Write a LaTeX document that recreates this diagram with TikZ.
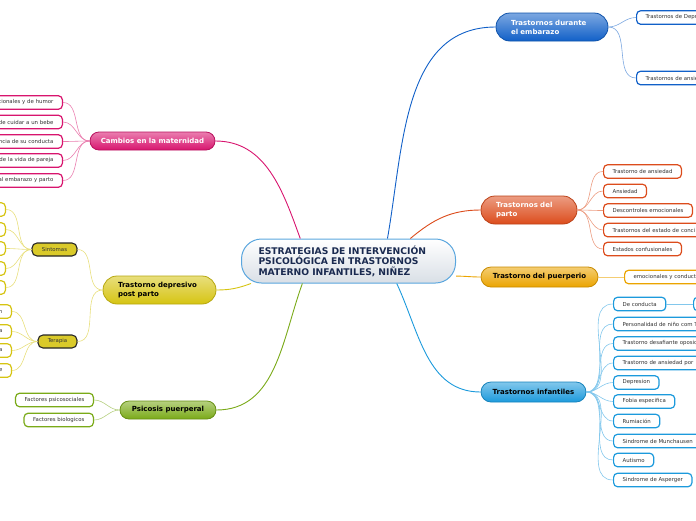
\documentclass[tikz,border=0pt]{standalone}
\usepackage{fontspec}
\setmainfont{DejaVu Sans}
\usetikzlibrary{positioning}

\begin{document}
\begin{tikzpicture}[x=1pt, y=-1pt, >=latex]

\definecolor{rootBorder}{HTML}{5AA6DE}
\definecolor{rootBot}{HTML}{D9DFE6}
\definecolor{rootText}{HTML}{1A2A50}
\definecolor{leafText}{HTML}{333333}
\definecolor{embCol}{HTML}{1160C8}
\definecolor{partoCol}{HTML}{DC4C1C}
\definecolor{puerCol}{HTML}{EBA400}
\definecolor{infCol}{HTML}{1C9ADC}
\definecolor{matCol}{HTML}{D8146E}
\definecolor{depCol}{HTML}{D6C412}
\definecolor{psiCol}{HTML}{7AAA18}

\tikzset{
    root_node/.style = {rectangle, rounded corners=20pt, draw=rootBorder, line width=1pt,
                        top color=white, bottom color=rootBot, text=rootText,
                        font=\fontsize{9.2}{10.6}\selectfont\bfseries, align=left,
                        minimum height=44pt, text width=180pt, inner xsep=17pt, inner ysep=0pt},
    main_node/.style = {rectangle, draw=#1!85!black, line width=0.8pt,
                        top color=#1!55!white, bottom color=#1,
                        font=\fontsize{7}{9}\selectfont\bfseries, inner sep=0pt},
    sub_node/.style = {rectangle, rounded corners=5pt, draw=black!85, line width=1.1pt,
                       fill=depCol!90!white, text=leafText, font=\fontsize{5.4}{6.5}\selectfont,
                       minimum height=13pt, inner sep=0pt},
    leaf_node/.style = {rectangle, rounded corners=4pt, draw=#1, line width=1.2pt, fill=white,
                        text=leafText, font=\fontsize{5.4}{6.5}\selectfont,
                        minimum height=13.5pt, inner xsep=9pt, inner ysep=0pt},
    cut_node/.style = {leaf_node=#1, anchor=west, text width=90pt, align=left},
    link/.style = {draw=#1, line width=0.9pt},
    twig/.style = {draw=#1!55!white, line width=0.6pt}
}

\useasboundingbox (0,0) rectangle (696,520);
\clip (0,0) rectangle (696,520);

% =========== CENTRAL TOPIC ===========
\node[root_node] (root) at (348.5, 261)
    {ESTRATEGIAS DE INTERVENCIÓN\\PSICOLÓGICA EN TRASTORNOS\\MATERNO INFANTILES, NIÑEZ};

% =========== TRASTORNOS DURANTE EL EMBARAZO ===========
\node[main_node=embCol, rounded corners=14pt, text=white, minimum height=28pt,
      text width=82pt, inner xsep=15pt, align=left] (emb) at (552, 27)
    {Trastornos durante\\el embarazo};

\node[cut_node=embCol] (emb_dep) at (636, 17.5) {Trastornos de Depr};
\node[cut_node=embCol] (emb_ans) at (636, 78) {Trastornos de ansie};

\draw[link=embCol] (root.30) to[out=80, in=180] (emb.west);
\draw[twig=embCol] (emb.east) to[out=0, in=180] (emb_dep.west);
\draw[twig=embCol] (emb.east) to[out=0, in=180] (emb_ans.west);

% =========== TRASTORNOS DEL PARTO ===========
\node[main_node=partoCol, rounded corners=14pt, text=white, minimum height=28pt,
      text width=66pt, inner xsep=15pt, align=left] (parto) at (529, 210)
    {Trastornos del\\parto};

\node[leaf_node=partoCol, anchor=west] (parto_1) at (603, 171.5) {Trastorno de ansiedad};
\node[leaf_node=partoCol, anchor=west] (parto_2) at (603, 191) {Ansiedad};
\node[leaf_node=partoCol, anchor=west] (parto_3) at (603, 210.5) {Descontroles emocionales};
\node[cut_node=partoCol] (parto_4) at (603, 230) {Trastornos del estado de conci};
\node[leaf_node=partoCol, anchor=west] (parto_5) at (603, 249) {Estados confusionales};

\draw[link=partoCol] (root.20) to[out=40, in=180] (parto.west);
\draw[twig=partoCol] (parto.east) to[out=0, in=180] (parto_1.west);
\draw[twig=partoCol] (parto.east) to[out=0, in=180] (parto_2.west);
\draw[twig=partoCol] (parto.east) to[out=0, in=180] (parto_3.west);
\draw[twig=partoCol] (parto.east) to[out=0, in=180] (parto_4.west);
\draw[twig=partoCol] (parto.east) to[out=0, in=180] (parto_5.west);

% =========== TRASTORNO DEL PUERPERIO ===========
\node[main_node=puerCol, rounded corners=10pt, text=black, minimum height=20pt,
      minimum width=117pt] (puer) at (539.5, 277) {Trastorno del puerperio};

\node[cut_node=puerCol] (puer_1) at (624, 277) {emocionales y conduct};

\draw[link=puerCol] (root.-8) to[out=0, in=180] (puer.west);
\draw[twig=puerCol] (puer.east) -- (puer_1.west);

% =========== TRASTORNOS INFANTILES ===========
\node[main_node=infCol, rounded corners=10pt, text=black, minimum height=20pt,
      minimum width=105pt] (inf) at (533.5, 392) {Trastornos infantiles};

\node[leaf_node=infCol, anchor=west] (inf_1) at (613, 304) {De conducta};
\node[leaf_node=infCol, anchor=west, minimum width=30pt] (inf_1b) at (693, 304) {};
\node[cut_node=infCol] (inf_2) at (613, 324) {Personalidad de niño com T};
\node[cut_node=infCol] (inf_3) at (613, 343.5) {Trastorno desafiante oposic};
\node[cut_node=infCol] (inf_4) at (613, 363) {Trastorno de ansiedad por};
\node[leaf_node=infCol, anchor=west] (inf_5) at (613, 382.5) {Depresion};
\node[leaf_node=infCol, anchor=west] (inf_6) at (613, 401.5) {Fobia especifica};
\node[leaf_node=infCol, anchor=west] (inf_7) at (613, 421) {Rumiación};
\node[leaf_node=infCol, anchor=west] (inf_8) at (613, 441) {Sindrome de Munchausen};
\node[leaf_node=infCol, anchor=west] (inf_9) at (613, 460) {Autismo};
\node[leaf_node=infCol, anchor=west] (inf_10) at (613, 480) {Sindrome de Asperger};

\draw[link=infCol] (root.-25) to[out=-65, in=180] (inf.west);
\draw[twig=infCol] (inf.east) to[out=0, in=180] (inf_1.west);
\draw[twig=infCol] (inf_1.east) -- (inf_1b.west);
\draw[twig=infCol] (inf.east) to[out=0, in=180] (inf_2.west);
\draw[twig=infCol] (inf.east) to[out=0, in=180] (inf_3.west);
\draw[twig=infCol] (inf.east) to[out=0, in=180] (inf_4.west);
\draw[twig=infCol] (inf.east) to[out=0, in=180] (inf_5.west);
\draw[twig=infCol] (inf.east) to[out=0, in=180] (inf_6.west);
\draw[twig=infCol] (inf.east) to[out=0, in=180] (inf_7.west);
\draw[twig=infCol] (inf.east) to[out=0, in=180] (inf_8.west);
\draw[twig=infCol] (inf.east) to[out=0, in=180] (inf_9.west);
\draw[twig=infCol] (inf.east) to[out=0, in=180] (inf_10.west);

% =========== CAMBIOS EN LA MATERNIDAD ===========
\node[main_node=matCol, rounded corners=9pt, text=white, minimum height=18pt,
      minimum width=125pt] (mat) at (152.5, 141) {Cambios en la maternidad};

\node[leaf_node=matCol, anchor=east, text width=62pt, align=right] (mat_1) at (63, 102.5) {cionales y de humor};
\node[leaf_node=matCol, anchor=east, text width=62pt, align=right] (mat_2) at (63, 122) {de cuidar a un bebe};
\node[leaf_node=matCol, anchor=east, text width=62pt, align=right] (mat_3) at (63, 141.5) {ncia de su conducta};
\node[leaf_node=matCol, anchor=east, text width=62pt, align=right] (mat_4) at (63, 160.5) {de la vida de pareja};
\node[leaf_node=matCol, anchor=east, text width=62pt, align=right] (mat_5) at (63, 180.5) {al embarazo y parto};

\draw[link=matCol] (root.155) to[out=110, in=0] (mat.east);
\draw[twig=matCol] (mat.west) to[out=180, in=0] (mat_1.east);
\draw[twig=matCol] (mat.west) to[out=180, in=0] (mat_2.east);
\draw[twig=matCol] (mat.west) to[out=180, in=0] (mat_3.east);
\draw[twig=matCol] (mat.west) to[out=180, in=0] (mat_4.east);
\draw[twig=matCol] (mat.west) to[out=180, in=0] (mat_5.east);

% =========== TRASTORNO DEPRESIVO POST PARTO ===========
\node[main_node=depCol, rounded corners=14pt, text=black, minimum height=28pt,
      text width=83pt, inner xsep=15pt, align=left] (dep) at (159.5, 290)
    {Trastorno depresivo\\post parto};

\node[sub_node, minimum width=45pt] (sint) at (54.5, 249.5) {Sintomas};
\node[sub_node, minimum width=39pt] (ter) at (57.5, 341.5) {Terapia};

\node[leaf_node=depCol, anchor=east, minimum width=30pt] (sint_1) at (6, 209.5) {};
\node[leaf_node=depCol, anchor=east, minimum width=30pt] (sint_2) at (6, 229.5) {};
\node[leaf_node=depCol, anchor=east, minimum width=30pt] (sint_3) at (6, 248.5) {};
\node[leaf_node=depCol, anchor=east, minimum width=30pt] (sint_4) at (6, 268.5) {};
\node[leaf_node=depCol, anchor=east, minimum width=30pt] (sint_5) at (6, 287.5) {};

\node[leaf_node=depCol, anchor=east, text width=12pt, align=right] (ter_1) at (12, 311.5) {n};
\node[leaf_node=depCol, anchor=east, text width=12pt, align=right] (ter_2) at (12, 331.5) {a};
\node[leaf_node=depCol, anchor=east, text width=12pt, align=right] (ter_3) at (12, 350.5) {a};
\node[leaf_node=depCol, anchor=east, text width=12pt, align=right] (ter_4) at (12, 370.5) {e};

\draw[link=depCol] (root.193) to[out=200, in=0] (dep.east);
\draw[twig=depCol] (dep.west) to[out=180, in=0] (sint.east);
\draw[twig=depCol] (dep.west) to[out=180, in=0] (ter.east);
\draw[twig=depCol] (sint.west) to[out=180, in=0] (sint_1.east);
\draw[twig=depCol] (sint.west) to[out=180, in=0] (sint_2.east);
\draw[twig=depCol] (sint.west) to[out=180, in=0] (sint_3.east);
\draw[twig=depCol] (sint.west) to[out=180, in=0] (sint_4.east);
\draw[twig=depCol] (sint.west) to[out=180, in=0] (sint_5.east);
\draw[twig=depCol] (ter.west) to[out=180, in=0] (ter_1.east);
\draw[twig=depCol] (ter.west) to[out=180, in=0] (ter_2.east);
\draw[twig=depCol] (ter.west) to[out=180, in=0] (ter_3.east);
\draw[twig=depCol] (ter.west) to[out=180, in=0] (ter_4.east);

% =========== PSICOSIS PUERPERAL ===========
\node[main_node=psiCol, rounded corners=9pt, text=black, minimum height=18pt,
      minimum width=96pt] (psi) at (168, 410) {Psicosis puerperal};

\node[leaf_node=psiCol, anchor=east] (psi_1) at (94, 400) {Factores psicosociales};
\node[leaf_node=psiCol, anchor=east] (psi_2) at (94, 420) {Factores biologicos};

\draw[link=psiCol] (root.206) to[out=-110, in=0] (psi.east);
\draw[twig=psiCol] (psi.west) to[out=180, in=0] (psi_1.east);
\draw[twig=psiCol] (psi.west) to[out=180, in=0] (psi_2.east);

\end{tikzpicture}
\end{document}
